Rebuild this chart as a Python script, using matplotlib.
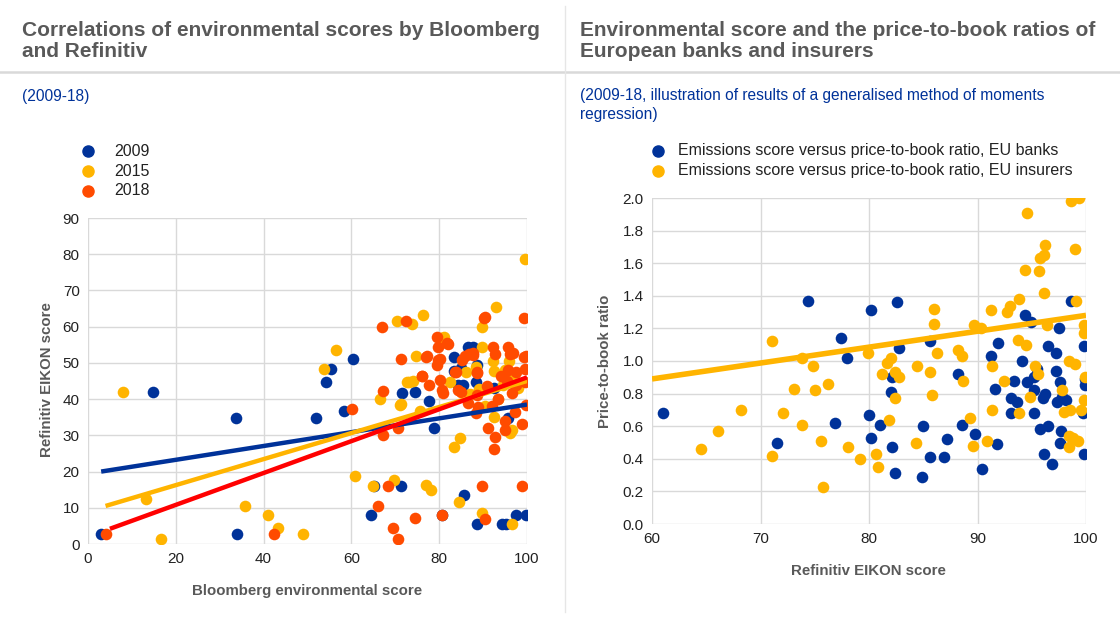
import matplotlib.pyplot as plt
from matplotlib.lines import Line2D

plt.rcParams['font.family'] = ['Liberation Sans', 'DejaVu Sans']

BLUE = "#003299"
YELLOW = "#FFB400"
ORANGE = "#FF4B00"
RED = "#FF0000"
GREY = "#595959"
GRID = "#D9D9D9"
SUB = "#003299"

# left chart: Bloomberg environmental score vs Refinitiv EIKON score
x_2009 = [3, 14.9, 33.6, 34, 52, 54.3, 55.3, 58.4, 60.3, 64.5, 65.2, 71.2, 71.6, 74.6,
          77.7, 78.8, 80.7, 83.4, 83.3, 84.3, 85.5, 85.7, 86.5, 87.6, 88.3, 88.5, 88.6,
          92.4, 94.4, 95.3, 95.7, 97.6, 99.8, 85.0]
y_2009 = [2.8, 42, 34.9, 2.8, 34.9, 44.8, 48.2, 36.7, 51, 8, 16, 16, 41.8, 42,
          39.4, 32.1, 8, 51.7, 47.7, 43.8, 43.9, 13.4, 54.5, 54.5, 44.8, 49.3, 5.5,
          43, 5.5, 5.5, 34.8, 8, 8, 48.5]

x_2015 = [7.9, 13.2, 16.7, 35.7, 41, 43.2, 49, 53.8, 56.5, 60.8, 65, 66.6, 69.6, 70.3,
          71.1, 71.2, 72.6, 73.1, 73.8, 74.1, 74.8, 75.7, 76.3, 77.1, 78.1, 80.5, 81,
          82.4, 83.3, 84.4, 84.7, 86.0, 88.3, 89.1, 89.7, 89.8, 89.8, 92.3, 92.4, 92.4,
          92.9, 93.5, 94.5, 95.8, 96.1, 96.5, 96.5, 97.0, 99.6, 90.5, 87.0, 98.0, 95.0]
y_2015 = [42, 12.3, 1.4, 10.6, 8, 4.3, 2.8, 48.2, 53.6, 18.7, 16, 40, 17.7, 61.5,
          38.5, 38.6, 44.7, 44.8, 60.6, 45.1, 51.9, 36.7, 63.2, 16.2, 15, 56.8, 57.2,
          44.8, 26.8, 11.5, 29.4, 47.5, 49, 42.9, 59.8, 54.5, 8.5, 50.6, 47.8, 35.1,
          65.3, 40.0, 44.0, 50.5, 30.7, 5.5, 31.5, 46.0, 78.7, 38.0, 41.5, 43.0, 48.0]

x_2018 = [4.2, 42.4, 60.2, 66.0, 66.9, 67.1, 67.3, 68.3, 69.4, 70.6, 70.6, 71.4, 72.4,
          74.6, 76.0, 76.1, 77.1, 77.3, 77.7, 79.4, 79.6, 79.8, 79.8, 80.2, 80.2, 80.6,
          80.7, 80.8, 81.7, 81.9, 83.6, 83.8, 84.3, 85.0, 85.2, 85.9, 86.9, 87.6, 87.7,
          88.3, 88.5, 88.5, 88.7, 88.9, 89.8, 90.2, 90.5, 90.5, 91.1, 92.0, 92.3, 92.4,
          92.7, 92.8, 94.1, 94.9, 95.0, 95.7, 95.7, 96.2, 96.5, 96.9, 97.3, 97.5, 98.8,
          98.8, 99.3, 99.3, 99.6, 99.6, 99.8, 99.8, 93.5, 91.0, 86.5, 95.5, 97.5]
y_2018 = [2.8, 2.8, 37.4, 10.6, 59.8, 30.2, 42.2, 16, 4.3, 31.9, 1.4, 51, 61.5,
          7.1, 46.5, 46.4, 51.7, 51.9, 43.9, 57.1, 49.4, 54.3, 50.8, 45.3, 51, 42.4,
          8, 41.6, 55.4, 55.2, 47.4, 47.4, 42.4, 42, 50.9, 51.9, 52.4, 52.3, 52.8,
          36.2, 41, 47.4, 47.3, 37.9, 16, 62.4, 6.9, 62.6, 32.1, 38.2, 54.3, 26.3,
          29.5, 52.5, 46.3, 31.4, 34, 54.3, 48, 52.5, 41.7, 52.6, 36.5, 47.5, 33.1,
          16, 62.4, 51.7, 48.2, 44.8, 38.5, 51.9, 40.0, 43.5, 39.0, 45.0, 44.0]

fit_x_2009 = [3, 100]
fit_y_2009 = [20, 38.5]
fit_x_2015 = [4, 100]
fit_y_2015 = [10.5, 45]
fit_x_2018 = [5, 100]
fit_y_2018 = [4.2, 46]

# right chart: Refinitiv EIKON score vs price-to-book ratio
x_banks = [61, 71.5, 74.4, 76.9, 77.4, 78, 80, 80.2, 80.2, 81, 82, 82.1, 82.1, 82.4,
           82.6, 82.8, 84.9, 85, 85.6, 85.6, 86.9, 87.2, 88.2, 88.6, 89.8, 90.4, 91.2,
           91.6, 91.8, 91.9, 93.1, 93.1, 93.4, 93.6, 94.1, 94.4, 94.6, 94.9, 95.2, 95.2,
           95.5, 95.2, 95.8, 96, 96.1, 96.2, 96.5, 96.9, 96.5, 97.2, 97.2, 97.3, 97.5,
           97.6, 97.7, 97.6, 97.8, 98.2, 98.6, 99.7, 99.8, 99.9, 99.9, 99.8]
y_banks = [0.68, 0.50, 1.37, 0.62, 1.14, 1.02, 0.67, 1.31, 0.53, 0.61, 0.81, 0.90, 0.47, 0.31,
           1.36, 1.08, 0.29, 0.60, 0.41, 1.12, 0.41, 0.52, 0.92, 0.61, 0.55, 0.34, 1.03,
           0.83, 0.49, 1.11, 0.68, 0.77, 0.88, 0.75, 1.00, 1.28, 0.87, 1.24, 0.68, 0.90,
           0.95, 0.82, 0.58, 0.77, 0.43, 0.80, 0.60, 0.37, 1.09, 1.05, 0.94, 0.75, 1.20,
           0.87, 0.57, 0.50, 0.78, 0.76, 1.37, 0.68, 1.09, 0.85, 0.89, 0.43]

x_insurers = [64.5, 66.1, 68.2, 71.1, 71.1, 72.1, 73.1, 73.8, 73.8, 74.8, 75, 76.2, 75.6,
              75.8, 78.1, 79.2, 79.9, 80.6, 80.8, 81.2, 81.7, 82, 81.8, 82.4, 82.4, 82.8,
              84.3, 84.4, 85.6, 85.8, 86, 86, 86.3, 88.2, 88.6, 88.7, 89.3, 89.6, 89.7,
              90.3, 90.9, 91.2, 91.3, 91.3, 92.4, 92.7, 93, 93.8, 93.7, 93.8, 94.4, 94.5,
              94.6, 94.8, 95.3, 95.6, 95.7, 95.8, 96.1, 96.1, 96.2, 96.4, 97.8, 98, 98.4,
              98.4, 98.4, 98.5, 98.6, 99, 99, 99.1, 99.3, 99.4, 99.5, 99.8, 99.8, 99.8,
              99.9, 98.8]
y_insurers = [0.46, 0.57, 0.70, 1.12, 0.42, 0.68, 0.83, 1.02, 0.61, 0.97, 0.82, 0.86, 0.51,
              0.23, 0.47, 0.40, 1.05, 0.43, 0.35, 0.92, 0.99, 1.02, 0.64, 0.93, 0.77, 0.90,
              0.50, 0.97, 0.93, 0.79, 1.32, 1.23, 1.05, 1.07, 1.03, 0.88, 0.65, 0.48, 1.22,
              1.20, 0.51, 1.31, 0.97, 0.70, 0.88, 1.30, 1.34, 1.38, 1.13, 0.68, 1.56, 1.10,
              1.91, 0.78, 0.97, 0.92, 1.55, 1.63, 1.42, 1.65, 1.71, 1.22, 0.82, 0.69, 1.00,
              0.54, 0.47, 0.70, 1.98, 1.69, 0.98, 1.37, 0.51, 2.00, 0.70, 1.17, 1.22, 0.76,
              0.90, 0.53]

fit_x_insurers = [60, 100]
fit_y_insurers = [0.89, 1.28]

W, H = 1120, 617
fig = plt.figure(figsize=(W / 100, H / 100), dpi=100)


def fx(px):
    return px / W


def fy(py):
    return 1 - py / H


# headers and separators
fig.add_artist(Line2D([0, 1], [fy(72), fy(72)], color=GRID, lw=1.8))
fig.add_artist(Line2D([fx(565), fx(565)], [fy(6), fy(612)], color="#E6E6E6", lw=1.0))

fig.text(fx(22), fy(41), "Correlations of environmental scores by Bloomberg\nand Refinitiv",
         fontsize=15, fontweight="bold", color=GREY, va="center", linespacing=1.08)
fig.text(fx(580), fy(41), "Environmental score and the price-to-book ratios of\nEuropean banks and insurers",
         fontsize=15, fontweight="bold", color=GREY, va="center", linespacing=1.08)
fig.text(fx(22), fy(97), "(2009-18)", fontsize=11.2, color=SUB, va="center")
fig.text(fx(580), fy(105), "(2009-18, illustration of results of a generalised method of moments\nregression)",
         fontsize=11.2, color=SUB, va="center", linespacing=1.3)


def style_axes(ax):
    for s in ax.spines.values():
        s.set_visible(False)
    ax.grid(True, color=GRID, lw=1.0)
    ax.set_axisbelow(True)
    ax.tick_params(length=0, labelsize=11, colors="#222222", pad=6)


# left chart
ax1 = fig.add_axes([fx(88), fy(544), fx(527 - 88), (544 - 218) / H])
style_axes(ax1)
ms = 70
ax1.scatter(x_2009, y_2009, s=ms, color=BLUE, lw=0, zorder=2)
ax1.scatter(x_2015, y_2015, s=ms, color=YELLOW, lw=0, zorder=2)
ax1.scatter(x_2018, y_2018, s=ms, color=ORANGE, lw=0, zorder=2)
ax1.plot(fit_x_2009, fit_y_2009, color=BLUE, lw=3.2, zorder=3, solid_capstyle="butt")
ax1.plot(fit_x_2015, fit_y_2015, color=YELLOW, lw=3.2, zorder=3, solid_capstyle="butt")
ax1.plot(fit_x_2018, fit_y_2018, color=RED, lw=3.2, zorder=3, solid_capstyle="butt")
ax1.set_xlim(0, 100)
ax1.set_ylim(0, 90)
ax1.set_xticks(range(0, 101, 20))
ax1.set_yticks(range(0, 91, 10))

fig.text(fx(47), fy(380), "Refinitiv EIKON score", rotation=90, ha="center", va="center",
         fontsize=10.8, fontweight="bold", color=GREY)
fig.text(fx(307), fy(591), "Bloomberg environmental score", ha="center", va="center",
         fontsize=10.8, fontweight="bold", color=GREY)

for i, (lab, col) in enumerate([("2009", BLUE), ("2015", YELLOW), ("2018", ORANGE)]):
    yy = fy(151 + 20 * i)
    fig.add_artist(Line2D([fx(88)], [yy], marker="o", ms=8, color=col, lw=0))
    fig.text(fx(114), yy, lab, fontsize=11.5, color="#222222", va="center")

# right chart
ax2 = fig.add_axes([fx(652), fy(524), fx(1086 - 652), (524 - 198) / H])
style_axes(ax2)
ax2.scatter(x_banks, y_banks, s=ms, color=BLUE, lw=0, zorder=2)
ax2.scatter(x_insurers, y_insurers, s=ms, color=YELLOW, lw=0, zorder=2)
ax2.plot(fit_x_insurers, fit_y_insurers, color=YELLOW, lw=4, zorder=3, solid_capstyle="butt")
ax2.set_xlim(60, 100)
ax2.set_ylim(0, 2.0)
ax2.set_xticks(range(60, 101, 10))
ax2.set_yticks([i / 10 for i in range(0, 21, 2)])
ax2.set_yticklabels(["%.1f" % (i / 10) for i in range(0, 21, 2)])

fig.text(fx(605), fy(361), "Price-to-book ratio", rotation=90, ha="center", va="center",
         fontsize=10.8, fontweight="bold", color=GREY)
fig.text(fx(868), fy(571), "Refinitiv EIKON score", ha="center", va="center",
         fontsize=10.8, fontweight="bold", color=GREY)

for i, (lab, col) in enumerate([("Emissions score versus price-to-book ratio, EU banks", BLUE),
                                ("Emissions score versus price-to-book ratio, EU insurers", YELLOW)]):
    yy = fy(151 + 20 * i)
    fig.add_artist(Line2D([fx(658)], [yy], marker="o", ms=8, color=col, lw=0))
    fig.text(fx(678), yy, lab, fontsize=11.5, color="#222222", va="center")

fig.savefig("out.png", dpi=100)
